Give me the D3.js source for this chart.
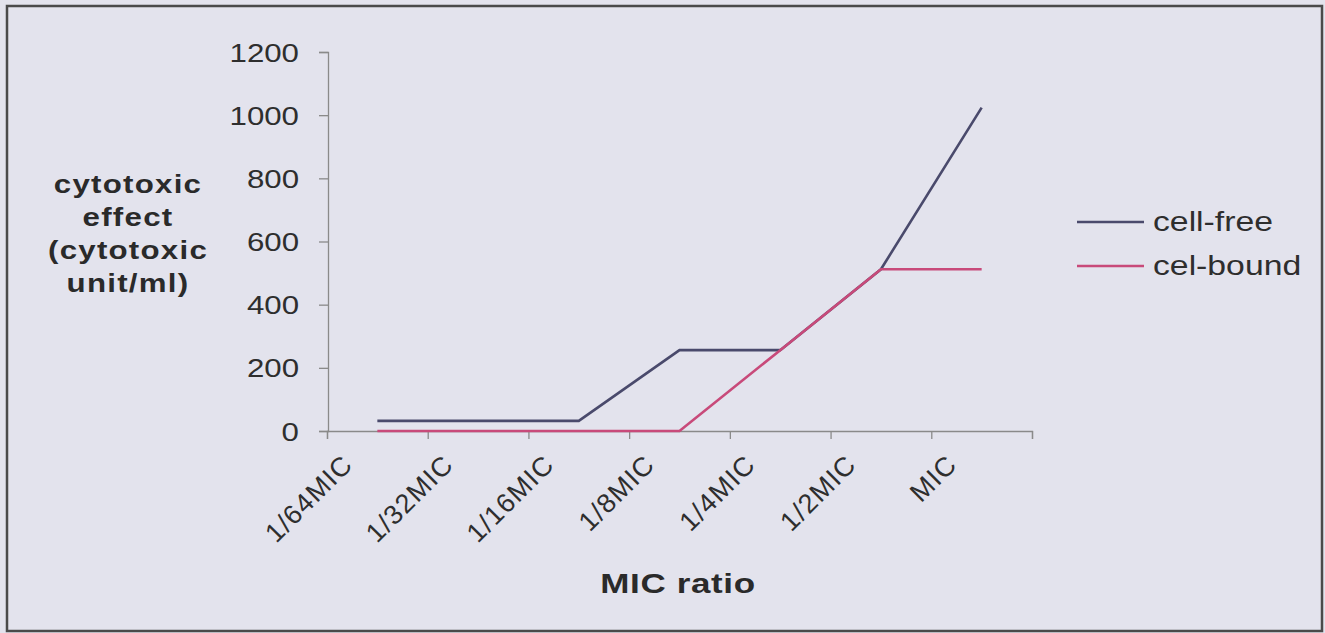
<!DOCTYPE html>
<html><head><meta charset="utf-8">
<script src="https://cdn.jsdelivr.net/npm/d3@7"></script>
<style>html,body{margin:0;padding:0;background:#e3e3ed;}svg{display:block;}</style>
</head><body>
<script>
const categories = ["1/64MIC","1/32MIC","1/16MIC","1/8MIC","1/4MIC","1/2MIC","MIC"];
const cellFree = [32,32,32,256,256,512,1024];
const celBound = [0,0,0,0,256,512,512];
const yTicks = [0,200,400,600,800,1000,1200];
const seriesNames = ["cell-free","cel-bound"];
const yTitleLines = ["cytotoxic","effect","(cytotoxic","unit/ml)"];
const xTitle = "MIC ratio";

const W=1325,H=633, SX=1.25;
const colors=["#4a4a6c","#c84a7a"];
const svg=d3.select("body").append("svg").attr("width",W).attr("height",H);
svg.append("rect").attr("width",W).attr("height",H).attr("fill","#e3e3ed");
svg.append("rect").attr("x",7).attr("y",6).attr("width",1315).attr("height",625)
  .attr("fill","none").attr("stroke","#4a4a4a").attr("stroke-width",2.5);

const x=d3.scaleBand().domain(categories).range([327,1032]).padding(0);
const xb=d3.scaleLinear().domain([0,categories.length]).range([327,1032]);
const y=d3.scaleLinear().domain([0,1200]).range([431,52]);
const cx=c=>x(c)+x.bandwidth()/2;

// y axis
const ya=svg.append("g").attr("transform","translate(328,0)")
  .call(d3.axisLeft(y).tickValues(yTicks).tickSize(9).tickFormat(d3.format("d")));
ya.select(".domain").attr("stroke","#8a8a8a").attr("stroke-width",1.3);
ya.selectAll(".tick line").attr("stroke","#8a8a8a").attr("stroke-width",1.3);
ya.selectAll(".tick text").each(function(d){
  const t=d3.select(this);
  t.attr("x",null).attr("dy",null).attr("transform","translate(-29,9) scale("+SX+",1)")
   .attr("font-family","Liberation Sans, Arial, sans-serif").attr("font-size",25)
   .attr("fill","#2e2e2e").attr("text-anchor","end");
});

// x axis (ticks at category boundaries)
const xa=svg.append("g").attr("transform","translate(0,431)")
  .call(d3.axisBottom(xb).tickValues(d3.range(categories.length+1)).tickSize(8).tickFormat(""));
xa.select(".domain").attr("stroke","#8a8a8a").attr("stroke-width",1.3);
xa.selectAll(".tick line").attr("stroke","#8a8a8a").attr("stroke-width",1.3);
svg.append("g").selectAll("text").data(categories).join("text")
  .attr("transform",d=>`translate(${cx(d)-23},466) rotate(-45)`)
  .attr("text-anchor","end").attr("letter-spacing",1.2)
  .attr("font-family","Liberation Sans, Arial, sans-serif").attr("font-size",27)
  .attr("fill","#2e2e2e").text(d=>d);

// lines
const line=d3.line().x((d,i)=>cx(categories[i])).y(d=>y(d));
[cellFree,celBound].forEach((s,k)=>{
  svg.append("path").datum(s).attr("d",line).attr("fill","none")
    .attr("stroke",colors[k]).attr("stroke-width",2.6);
});

// legend
seriesNames.forEach((n,k)=>{
  const ly=222+k*44;
  svg.append("line").attr("x1",1077).attr("x2",1144).attr("y1",ly).attr("y2",ly)
    .attr("stroke",colors[k]).attr("stroke-width",2.6);
  svg.append("text").attr("transform",`translate(1153,${ly+9}) scale(${SX},1)`)
    .attr("font-family","Liberation Sans, Arial, sans-serif").attr("font-size",27)
    .attr("fill","#2e2e2e").text(n);
});

// titles
svg.append("g").selectAll("text").data(yTitleLines).join("text")
  .attr("transform",(d,i)=>`translate(128,${193+i*33}) scale(${SX},1)`)
  .attr("text-anchor","middle").attr("font-weight","bold").attr("letter-spacing",1)
  .attr("font-family","Liberation Sans, Arial, sans-serif").attr("font-size",25)
  .attr("fill","#2a2a2a").text(d=>d);
svg.append("text").attr("transform",`translate(678,593) scale(${SX},1)`)
  .attr("text-anchor","middle").attr("font-weight","bold").attr("letter-spacing",0.5)
  .attr("font-family","Liberation Sans, Arial, sans-serif").attr("font-size",28)
  .attr("fill","#2a2a2a").text(xTitle);
</script>
</body></html>
